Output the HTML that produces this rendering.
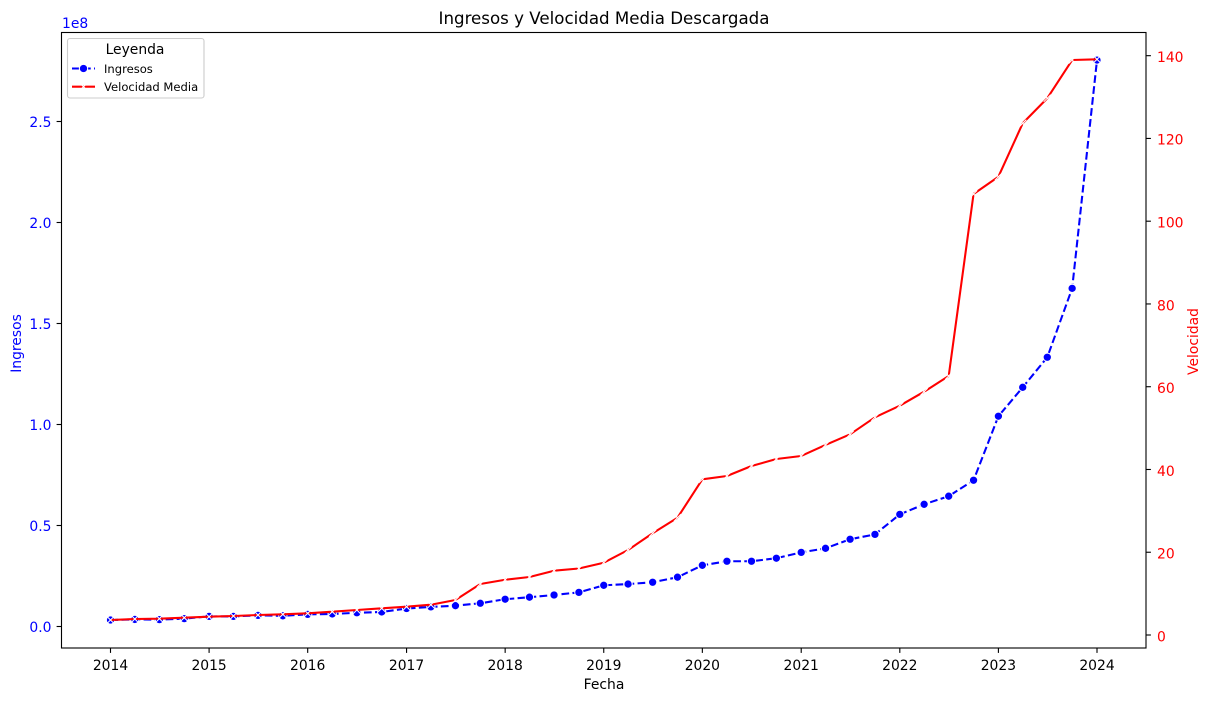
<!DOCTYPE html>
<html lang="es">
<head>
<meta charset="utf-8">
<title>Ingresos y Velocidad Media Descargada</title>
<style>
html,body{margin:0;padding:0;background:#fff;}
svg{display:block;}
text{font-family:"DejaVu Sans","Liberation Sans",sans-serif;}
</style>
</head>
<body>
<svg id="chart" width="1211" height="701" viewBox="0 0 1211 701" xmlns="http://www.w3.org/2000/svg">
  <rect x="0" y="0" width="1211" height="701" fill="#fff"/>
  <g id="marks-left"></g>
  <g id="marks-right"></g>
  <rect x="61.5" y="32.5" width="1084.5" height="615.5" fill="none" stroke="#000" stroke-width="1.11"/>
  <g id="x-axis"></g>
  <g id="y-left-axis"></g>
  <g id="y-right-axis"></g>
  <text x="604" y="24" font-size="16.67" text-anchor="middle" fill="#000">Ingresos y Velocidad Media Descargada</text>
  <text x="604" y="689" font-size="13.89" text-anchor="middle" fill="#000">Fecha</text>
  <text transform="translate(21 343.5) rotate(-90)" font-size="13.89" text-anchor="middle" fill="#0000ff">Ingresos</text>
  <text transform="translate(1198 341.5) rotate(-90)" font-size="13.89" text-anchor="middle" fill="#ff0000">Velocidad</text>
  <text x="62" y="28" font-size="13.89" fill="#0000ff">1e8</text>
  <g>
    <rect x="67.5" y="38.5" width="136.5" height="59.5" rx="2.5" ry="2.5" fill="#fff" fill-opacity="0.8" stroke="#cccccc" stroke-width="1.11"/>
    <text x="135" y="54" font-size="13.89" text-anchor="middle" fill="#000">Leyenda</text>
    <g>
      <line x1="72" y1="68.5" x2="95" y2="68.5" stroke="#0000ff" stroke-width="2.08" stroke-dasharray="7.7 3.33"/>
      <circle cx="83.5" cy="68.5" r="4.17" fill="#0000ff" stroke="#fff" stroke-width="1.04"/>
      <text x="104" y="73" font-size="11.57" fill="#000">Ingresos</text>
    </g>
    <g>
      <line x1="72" y1="86.7" x2="95" y2="86.7" stroke="#ff0000" stroke-width="2.08"/>
      <path d="M81.5 84.7L85.5 88.7M81.5 88.7L85.5 84.7" stroke="#fff" stroke-width="1.04" fill="none"/>
      <text x="104" y="91" font-size="11.57" fill="#000">Velocidad Media</text>
    </g>
  </g>
</svg>
<script>
const fechas = [
  "2014-01-01","2014-04-01","2014-07-01","2014-10-01",
  "2015-01-01","2015-04-01","2015-07-01","2015-10-01",
  "2016-01-01","2016-04-01","2016-07-01","2016-10-01",
  "2017-01-01","2017-04-01","2017-07-01","2017-10-01",
  "2018-01-01","2018-04-01","2018-07-01","2018-10-01",
  "2019-01-01","2019-04-01","2019-07-01","2019-10-01",
  "2020-01-01","2020-04-01","2020-07-01","2020-10-01",
  "2021-01-01","2021-04-01","2021-07-01","2021-10-01",
  "2022-01-01","2022-04-01","2022-07-01","2022-10-01",
  "2023-01-01","2023-04-01","2023-07-01","2023-10-01",
  "2024-01-01"
];
const ingresos = [
  3200000,3500000,3400000,3900000,5000000,5000000,5500000,5300000,
  6000000,6200000,6800000,7200000,8900000,9700000,10300000,11500000,
  13500000,14500000,15600000,16900000,20400000,21000000,21900000,24400000,
  30300000,32300000,32300000,33800000,36700000,38700000,43200000,45600000,
  55500000,60500000,64500000,72400000,104100000,118400000,133300000,167400000,
  280400000
];
const velocidad = [
  3.62,3.87,3.94,4.18,4.42,4.59,4.83,5.0,
  5.24,5.63,6.04,6.45,6.84,7.32,8.46,12.32,
  13.36,14.02,15.54,16.07,17.47,20.54,24.58,28.34,
  37.63,38.42,40.84,42.53,43.26,45.92,48.5,52.61,
  55.41,58.8,62.59,106.57,110.75,123.66,129.72,138.95,
  139.12
];
const xTicks = ["2014","2015","2016","2017","2018","2019","2020","2021","2022","2023","2024"];
const yLeftTicks = [0,50000000,100000000,150000000,200000000,250000000];
const yLeftLabels = ["0.0","0.5","1.0","1.5","2.0","2.5"];
const yRightTicks = [0,20,40,60,80,100,120,140];
const yRightLabels = ["0","20","40","60","80","100","120","140"];

const NS = "http://www.w3.org/2000/svg";
const t0 = Date.parse("2014-01-01T00:00:00Z");
const t1 = Date.parse("2024-01-01T00:00:00Z");
function xScale(dateStr){
  return 110.5 + (Date.parse(dateStr + "T00:00:00Z") - t0) / (t1 - t0) * 986.5;
}
function yLeft(v){ return 626.5 - v / 100000000 * 202; }
function yRight(v){ return 635 - v * 4.138; }
function make(tag, attrs, parent){
  const el = document.createElementNS(NS, tag);
  for (const k in attrs) el.setAttribute(k, attrs[k]);
  parent.appendChild(el);
  return el;
}

const gx = document.getElementById("x-axis");
xTicks.forEach(function(label){
  const x = xScale(label + "-01-01");
  const t = make("line", {x1:x, x2:x, y1:648, y2:652.9, stroke:"#000", "stroke-width":1.11}, gx);
  
  
  const s = make("text", {x:x, y:670, "font-size":13.89, "text-anchor":"middle", fill:"#000"}, gx);
  
  
  s.textContent = label;
});

const gl = document.getElementById("y-left-axis");
yLeftTicks.forEach(function(v, i){
  const y = yLeft(v);
  const t = make("line", {x1:56.6, x2:61.5, y1:y, y2:y, stroke:"#000", "stroke-width":1.11}, gl);
  
  
  const s = make("text", {x:51.5, y:y + 5.3, "font-size":13.89, "text-anchor":"end", fill:"#0000ff"}, gl);
  
  
  s.textContent = yLeftLabels[i];
});

const gr = document.getElementById("y-right-axis");
yRightTicks.forEach(function(v, i){
  const y = yRight(v);
  const t = make("line", {x1:1146, x2:1150.9, y1:y, y2:y, stroke:"#000", "stroke-width":1.11}, gr);
  
  
  const s = make("text", {x:1157, y:y + 6.3, "font-size":13.89, "text-anchor":"start", fill:"#ff0000"}, gr);
  
  
  s.textContent = yRightLabels[i];
});

const gIng = document.getElementById("marks-left");
const ingPts = fechas.map(function(d, i){ return xScale(d).toFixed(2) + "," + yLeft(ingresos[i]).toFixed(2); }).join(" ");
const ingLine = make("polyline", {points:ingPts, fill:"none", stroke:"#0000ff", "stroke-width":2.08, "stroke-dasharray":"7.7 3.33", "stroke-linejoin":"round"}, gIng);


fechas.forEach(function(d, i){
  const c = make("circle", {cx:xScale(d), cy:yLeft(ingresos[i]), r:4.17, fill:"#0000ff", stroke:"#fff", "stroke-width":1.04}, gIng);
  
  
});

const gVel = document.getElementById("marks-right");
const velPts = fechas.map(function(d, i){ return xScale(d).toFixed(2) + "," + yRight(velocidad[i]).toFixed(2); }).join(" ");
const velLine = make("polyline", {points:velPts, fill:"none", stroke:"#ff0000", "stroke-width":2.08, "stroke-linejoin":"round"}, gVel);


fechas.forEach(function(d, i){
  const x = xScale(d), y = yRight(velocidad[i]), a = 3.6;
  const m = make("path", {d:"M" + (x-a) + " " + (y-a) + "L" + (x+a) + " " + (y+a) + "M" + (x-a) + " " + (y+a) + "L" + (x+a) + " " + (y-a), fill:"none", stroke:"#fff", "stroke-width":1.04}, gVel);
  
  
});
</script>
</body>
</html>
